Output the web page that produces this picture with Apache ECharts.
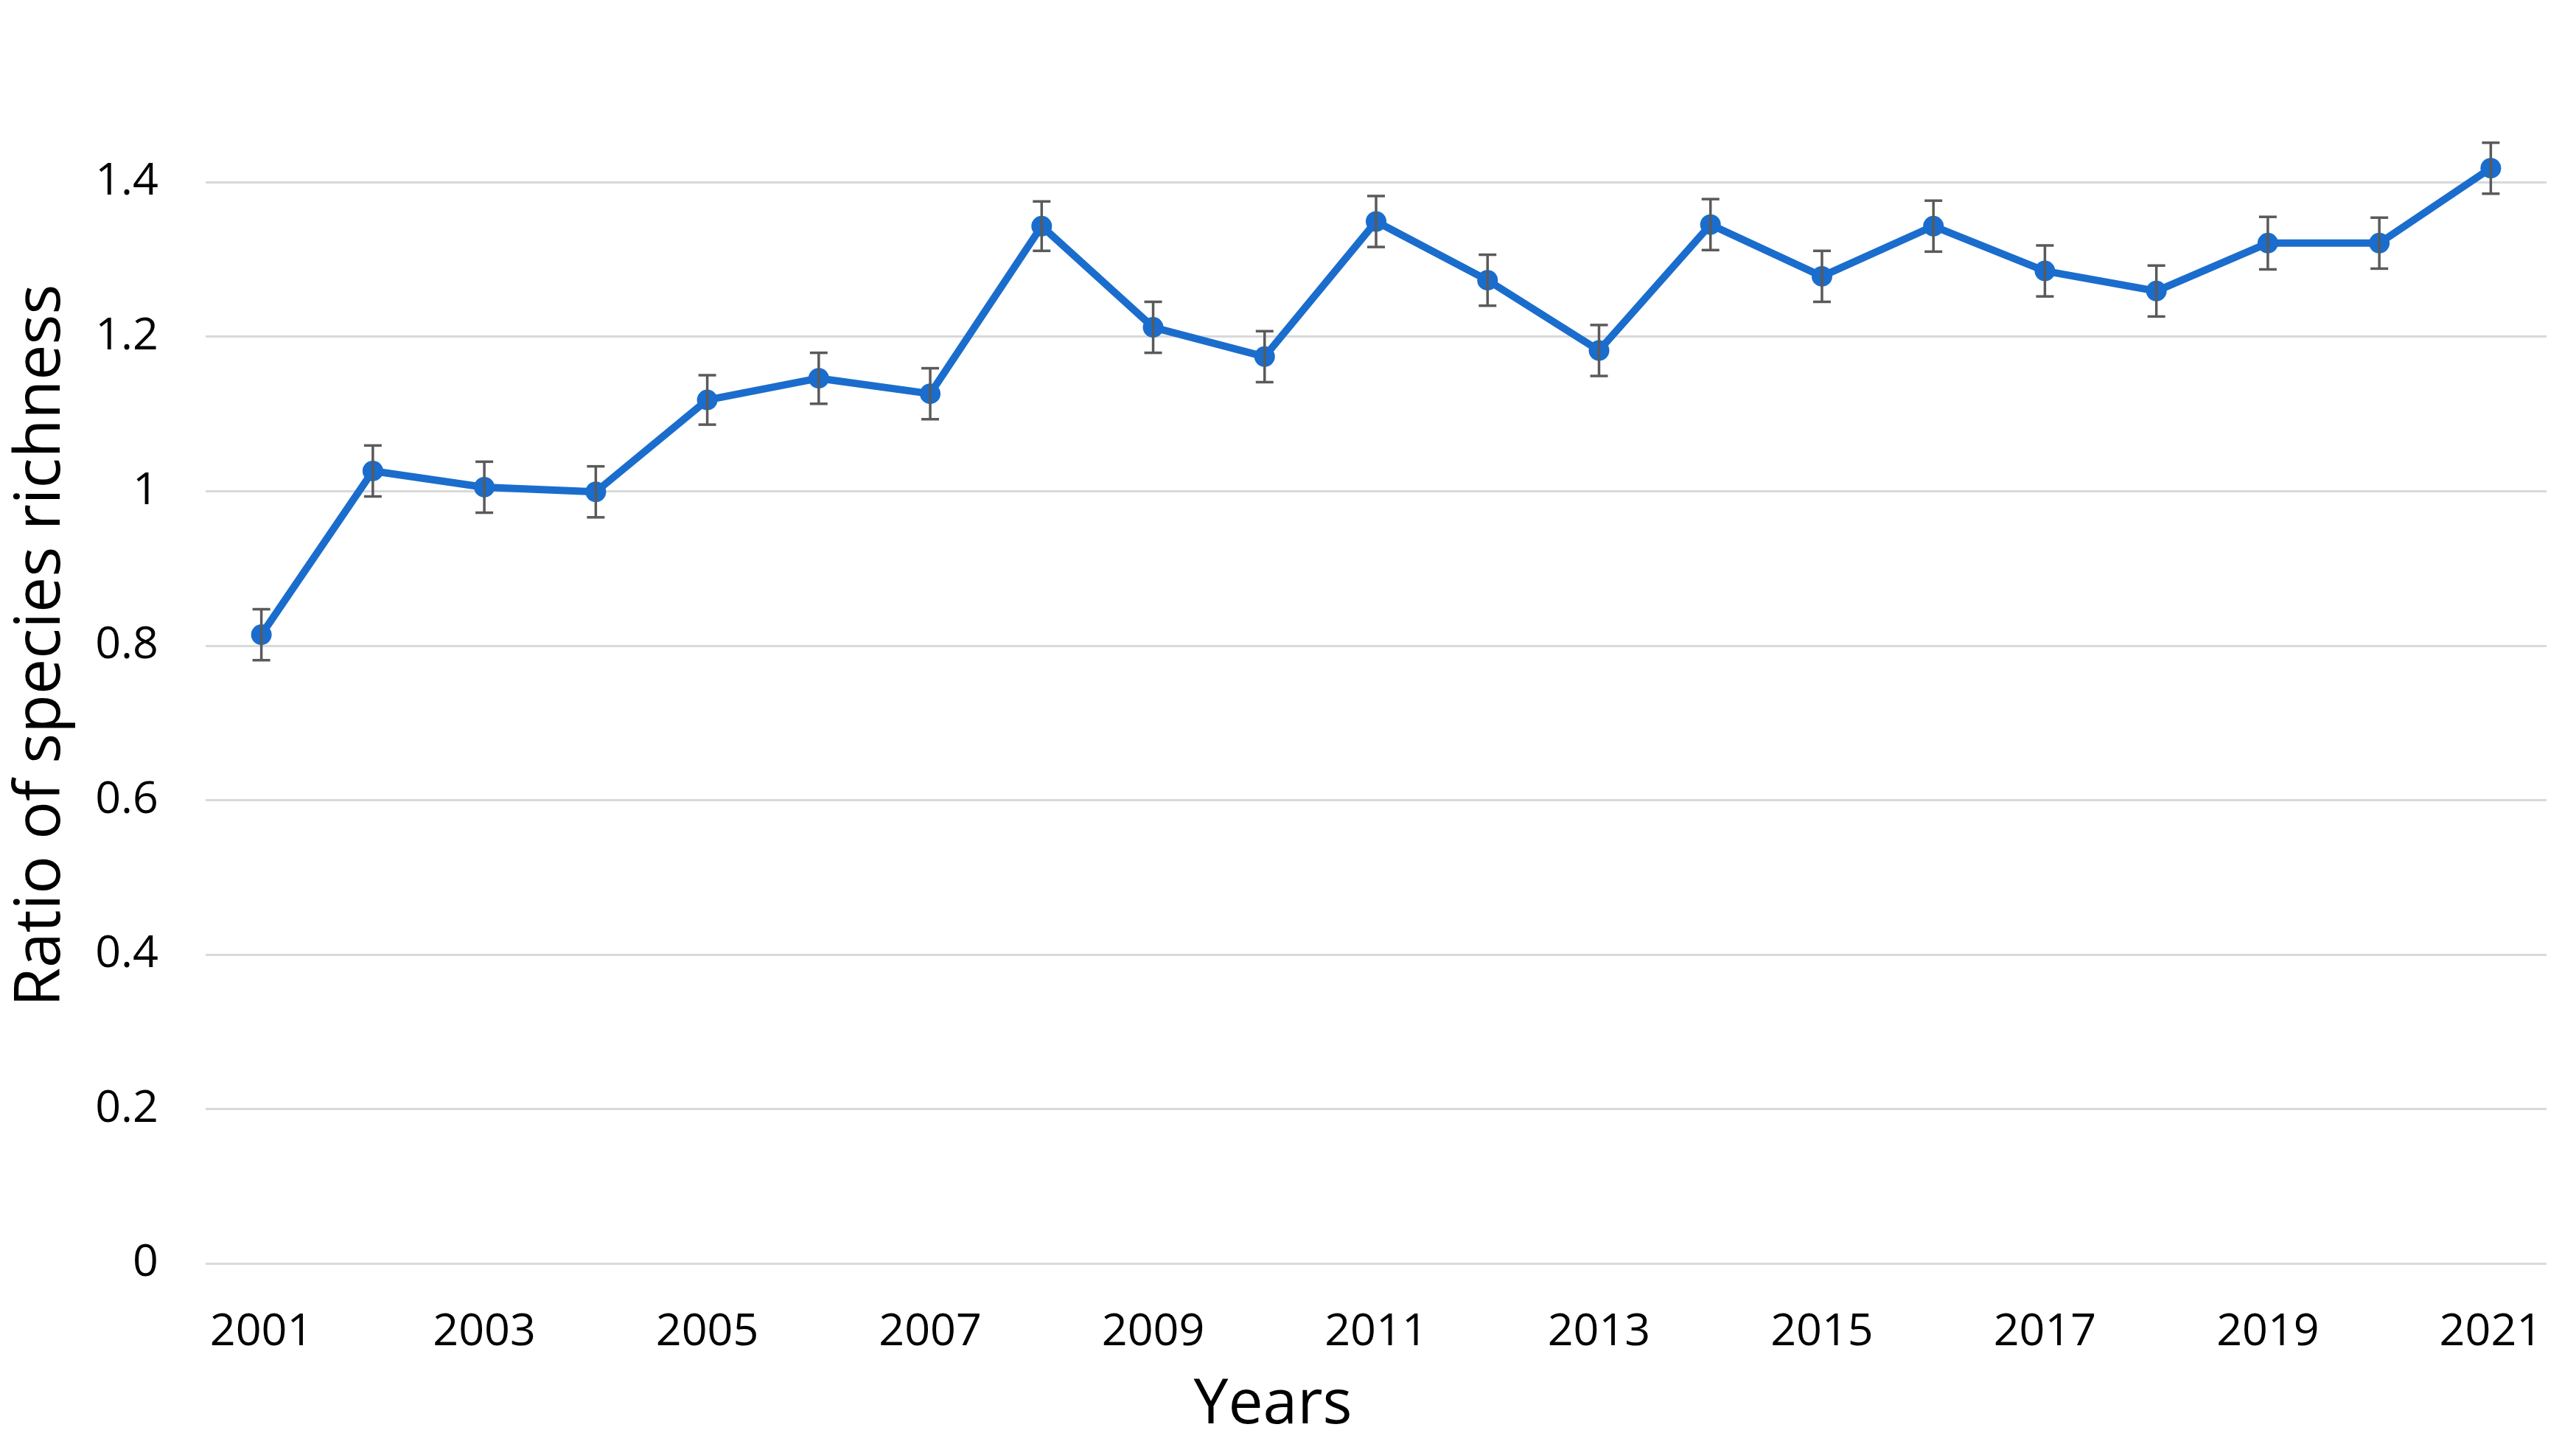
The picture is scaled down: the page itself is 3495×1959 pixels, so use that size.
<!DOCTYPE html>
<html>
<head>
<meta charset="utf-8">
<script src="https://cdn.jsdelivr.net/npm/echarts@6/dist/echarts.min.js"></script>
<style>
html,body{margin:0;padding:0;background:#fff;}
#chart{width:3495px;height:1959px;}
</style>
</head>
<body>
<div id="chart"></div>
<script>
const years = ['2001','2002','2003','2004','2005','2006','2007','2008','2009','2010','2011','2012','2013','2014','2015','2016','2017','2018','2019','2020','2021'];
const ratio = [0.814,1.026,1.005,0.999,1.118,1.146,1.126,1.343,1.212,1.174,1.349,1.273,1.182,1.345,1.278,1.343,1.285,1.259,1.321,1.321,1.418];
const errorSize = [0.033,0.033,0.033,0.033,0.032,0.033,0.033,0.032,0.033,0.033,0.033,0.033,0.033,0.033,0.033,0.033,0.033,0.033,0.034,0.033,0.033];
const yTicks = [0,0.2,0.4,0.6,0.8,1.0,1.2,1.4,1.6];

const FONT = "'Open Sans', 'Noto Sans', sans-serif";
const errData = years.map((y,i)=>[i, ratio[i]-errorSize[i], ratio[i]+errorSize[i]]);

const chart = echarts.init(document.getElementById('chart'));
chart.setOption({
  animation:false,
  backgroundColor:'#ffffff',
  grid:{left:279,right:40,top:37.5,bottom:245,containLabel:false},
  xAxis:{
    type:'category',
    data:years,
    boundaryGap:true,
    axisLine:{show:false},
    axisTick:{show:false},
    axisLabel:{interval:1,color:'#000',fontFamily:FONT,fontSize:61,margin:63},
    name:'Years',
    nameLocation:'middle',
    nameGap:151,
    nameTextStyle:{color:'#000',fontFamily:FONT,fontSize:84,padding:[0,280,0,0]}
  },
  yAxis:{
    type:'value',
    min:yTicks[0],
    max:yTicks[yTicks.length-1],
    interval:0.2,
    axisLine:{show:false},
    axisTick:{show:false},
    axisLabel:{showMaxLabel:false,color:'#000',fontFamily:FONT,fontSize:61,margin:64},
    splitLine:{show:true,lineStyle:{width:3,color:['#d9d9d9','#d9d9d9','#d9d9d9','#d9d9d9','#d9d9d9','#d9d9d9','#d9d9d9','#d9d9d9','rgba(0,0,0,0)']}},
    name:'Ratio of species richness',
    nameLocation:'middle',
    nameGap:180,
    nameTextStyle:{color:'#000',fontFamily:FONT,fontSize:86}
  },
  series:[
    {
      type:'custom',
      z:3,
      data:errData,
      renderItem:function(params,api){
        const x = api.value(0);
        const lo = api.coord([x, api.value(1)]);
        const hi = api.coord([x, api.value(2)]);
        const hw = 12;
        const st = {stroke:'#5a5a5a',lineWidth:3.5,fill:null};
        return {type:'group',children:[
          {type:'line',shape:{x1:lo[0],y1:lo[1],x2:hi[0],y2:hi[1]},style:st},
          {type:'line',shape:{x1:lo[0]-hw,y1:lo[1],x2:lo[0]+hw,y2:lo[1]},style:st},
          {type:'line',shape:{x1:hi[0]-hw,y1:hi[1],x2:hi[0]+hw,y2:hi[1]},style:st}
        ]};
      }
    },
    {
      type:'line',
      z:2,
      data:ratio,
      symbol:'circle',
      symbolSize:28,
      lineStyle:{color:'#1a6dcc',width:10},
      itemStyle:{color:'#1a6dcc'}
    }
  ]
});
</script>
</body>
</html>
